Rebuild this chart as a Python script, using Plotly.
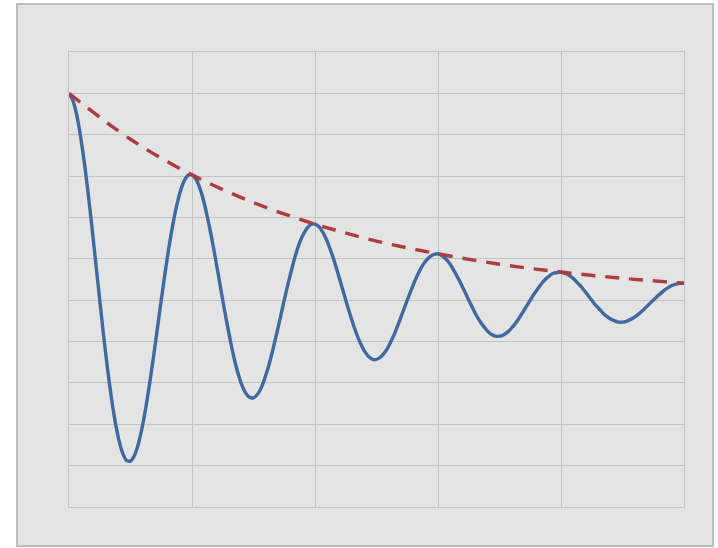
import plotly.graph_objects as go

# sample positions: every 1/32 of a grid unit from 0 to 5
x_vals = [i / 32 for i in range(161)]
wave_vals = [
    5.00, 4.83, 4.48, 3.97, 3.32, 2.57, 1.74, 0.87, 0.00, -0.85, -1.64, -2.34, -2.93, -3.39, -3.71, -3.88,
    -3.89, -3.76, -3.49, -3.09, -2.59, -2.00, -1.36, -0.68, 0.00, 0.66, 1.28, 1.82, 2.28, 2.64, 2.89, 3.02,
    3.03, 2.93, 2.72, 2.41, 2.01, 1.56, 1.06, 0.53, 0.00, -0.51, -0.99, -1.42, -1.78, -2.06, -2.25, -2.35,
    -2.36, -2.28, -2.12, -1.87, -1.57, -1.21, -0.82, -0.41, 0.00, 0.40, 0.77, 1.11, 1.39, 1.60, 1.75, 1.83,
    1.84, 1.78, 1.65, 1.46, 1.22, 0.95, 0.64, 0.32, 0.00, -0.31, -0.60, -0.86, -1.08, -1.25, -1.37, -1.43,
    -1.43, -1.38, -1.28, -1.14, -0.95, -0.74, -0.50, -0.25, 0.00, 0.24, 0.47, 0.67, 0.84, 0.97, 1.06, 1.11,
    1.12, 1.08, 1.00, 0.89, 0.74, 0.57, 0.39, 0.20, 0.00, -0.19, -0.37, -0.52, -0.65, -0.76, -0.83, -0.87,
    -0.87, -0.84, -0.78, -0.69, -0.58, -0.45, -0.30, -0.15, 0.00, 0.15, 0.28, 0.41, 0.51, 0.59, 0.65, 0.67,
    0.68, 0.65, 0.61, 0.54, 0.45, 0.35, 0.24, 0.12, 0.00, -0.12, -0.22, -0.32, -0.40, -0.46, -0.50, -0.53,
    -0.53, -0.51, -0.47, -0.42, -0.35, -0.27, -0.18, -0.09, 0.00, 0.09, 0.17, 0.25, 0.31, 0.36, 0.39, 0.41,
    0.41,
]
env_x = [0, 0.5, 1, 1.5, 2, 2.5, 3, 3.5, 4, 4.5, 5]
env_vals = [5.00, 3.89, 3.03, 2.36, 1.84, 1.43, 1.12, 0.87, 0.68, 0.53, 0.41]

W, H = 718, 548
L, R, T, B = 69, 684, 52, 507

fig = go.Figure()
fig.add_trace(go.Scatter(x=x_vals, y=wave_vals, mode="lines",
                         line=dict(color="#3b6aa6", width=3.4, shape="spline", smoothing=0.5),
                         showlegend=False, hoverinfo="skip"))
fig.add_trace(go.Scatter(x=env_x, y=env_vals, mode="lines",
                         line=dict(color="#b5393a", width=3.4, shape="spline", dash="14px,10px"),
                         showlegend=False, hoverinfo="skip"))

def px_x(p):
    return (p - L) / (R - L)

def px_y(p):
    return (B - p) / (B - T)

fig.add_shape(type="rect", xref="paper", yref="paper",
              x0=px_x(17), x1=px_x(713), y0=px_y(546), y1=px_y(4),
              fillcolor="#e4e4e4", line=dict(color="#bdbdbd", width=2), layer="below")

axis_common = dict(showgrid=True, gridcolor="#c2c2c2", gridwidth=1, zeroline=False,
                   showticklabels=False, ticks="", showline=True, linecolor="#c2c2c2",
                   linewidth=1, mirror=True)
fig.update_xaxes(range=[0, 5], dtick=1, **axis_common)
fig.update_yaxes(range=[-5, 6], dtick=1, **axis_common)

fig.update_layout(width=W, height=H, margin=dict(l=L, r=W - R, t=T, b=H - B),
                  paper_bgcolor="white", plot_bgcolor="#e4e4e4")

fig.write_html("out.html", config={"displayModeBar": False},
               post_script="document.body.style.margin='0';")
